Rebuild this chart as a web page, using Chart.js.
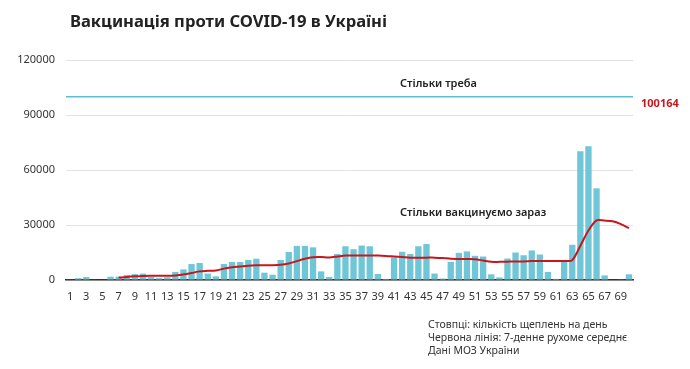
<!DOCTYPE html>
<html>
<head>
<meta charset="utf-8">
<script src="https://cdn.jsdelivr.net/npm/chart.js@4.4.1/dist/chart.umd.min.js"></script>
<style>
  html, body { margin: 0; padding: 0; background: #fff; }
  #wrap { width: 690px; height: 369px; }
</style>
</head>
<body>
<div id="wrap"><canvas id="vacChart" width="690" height="369"></canvas></div>
<script>
// дні
const days = [];
for (let i = 1; i <= 70; i++) days.push(String(i));

// кількість щеплень на день
const dailyShots = [
    300, 1000, 1600, 0, 0, 1800, 1800, 2700, 3200, 3500,
    1600, 1000, 1500, 4400, 5800, 8700, 9300, 3500, 2000, 8700,
    9800, 9800, 10900, 11600, 4000, 2900, 10900, 15300, 18600, 18600,
    17800, 4700, 1600, 14200, 18400, 16800, 18800, 18400, 3300, 600,
    12300, 15400, 14200, 18400, 19600, 3500, 800, 9900, 14800, 15600,
    13200, 12800, 3100, 1400, 11700, 15000, 13500, 16100, 13900, 4400,
    600, 10600, 19200, 70200, 73000, 50000, 2500, 0, 200, 3100
];

// 7-денне рухоме середнє
const movingAvg = [
    null, null, null, null, null, null, 1300, 1700, 2000, 2200,
    2300, 2300, 2300, 2500, 3000, 3800, 4700, 5000, 5200, 6200,
    7000, 7400, 7800, 8000, 8100, 8100, 8300, 9000, 10300, 11600,
    12400, 12500, 12300, 12800, 13300, 13300, 13300, 13300, 13300, 13100,
    12800, 12500, 12200, 12200, 12200, 12200, 12000, 11600, 11500, 11400,
    11300, 10600, 9900, 9900, 10000, 10100, 10100, 10300, 10300, 10400,
    10400, 10400, 10800, 18700, 27000, 32500, 32400, 32000, 30500, 28300
];

const targetPerDay = 100000;
const targetLabel = '100164';
const yTicks = [0, 30000, 60000, 90000, 120000];

const fontFamily = '"Noto Sans", "DejaVu Sans", sans-serif';

// лінія "Стільки треба" та підписи
const overlay = {
    id: 'overlay',
    beforeDatasetsDraw(chart) {
        const ctx = chart.ctx;
        const area = chart.chartArea;
        const y = chart.scales.y.getPixelForValue(targetPerDay);
        ctx.save();
        ctx.strokeStyle = '#5bbfd0';
        ctx.lineWidth = 1.5;
        ctx.beginPath();
        ctx.moveTo(area.left, y);
        ctx.lineTo(area.right, y);
        ctx.stroke();
        ctx.restore();
    },
    afterDraw(chart) {
        const ctx = chart.ctx;
        ctx.save();
        ctx.textBaseline = 'middle';
        ctx.textAlign = 'left';

        ctx.fillStyle = '#222';
        ctx.font = 'bold 16.6px ' + fontFamily;
        ctx.fillText('Вакцинація проти COVID-19 в Україні', 70, 22);

        ctx.font = '600 11px ' + fontFamily;
        ctx.fillStyle = '#222';
        ctx.fillText('Стільки треба', 400, 84);
        ctx.fillText('Стільки вакцинуємо зараз', 400, 213);

        ctx.fillStyle = '#c8161d';
        ctx.font = 'bold 11px ' + fontFamily;
        ctx.fillText(targetLabel, 641, 104);

        ctx.fillStyle = '#333';
        ctx.font = '10.5px ' + fontFamily;
        ctx.fillText('Стовпці: кількість щеплень на день', 428, 325);
        ctx.fillText('Червона лінія: 7-денне рухоме середнє', 428, 338);
        ctx.fillText('Дані МОЗ України', 428, 351);
        ctx.restore();
    }
};

const ctx = document.getElementById('vacChart').getContext('2d');
new Chart(ctx, {
    data: {
        labels: days,
        datasets: [
            {
                type: 'line',
                label: '7-денне середнє',
                data: movingAvg,
                borderColor: '#c8161d',
                borderWidth: 2,
                pointRadius: 0,
                tension: 0.3,
                spanGaps: false,
                order: 0
            },
            {
                type: 'bar',
                label: 'Щеплення',
                data: dailyShots,
                backgroundColor: '#6ec6d6',
                barPercentage: 0.78,
                categoryPercentage: 1.0,
                order: 1
            }
        ]
    },
    options: {
        responsive: false,
        animation: false,
        layout: { padding: { left: 0, right: 57, top: 60, bottom: 69 } },
        plugins: {
            legend: { display: false },
            tooltip: { enabled: false }
        },
        scales: {
            x: {
                grid: { display: false },
                border: { display: true, color: '#333', width: 1.5 },
                ticks: {
                    autoSkip: false,
                    maxRotation: 0,
                    padding: 2,
                    color: '#333',
                    font: { family: fontFamily, size: 11 },
                    callback: function (val, idx) {
                        return idx % 2 === 0 ? this.getLabelForValue(val) : '';
                    }
                },
                afterFit: function (scale) { scale.height = 20; }
            },
            y: {
                min: 0,
                max: 120000,
                afterBuildTicks: function (scale) {
                    scale.ticks = yTicks.map(v => ({ value: v }));
                },
                grid: { color: '#e3e3e3', lineWidth: 1, drawTicks: false },
                border: { display: false },
                ticks: {
                    padding: 11,
                    color: '#333',
                    font: { family: fontFamily, size: 11 },
                    callback: value => String(value)
                },
                afterFit: function (scale) { scale.width = 66; }
            }
        }
    },
    plugins: [overlay]
});
</script>
</body>
</html>
